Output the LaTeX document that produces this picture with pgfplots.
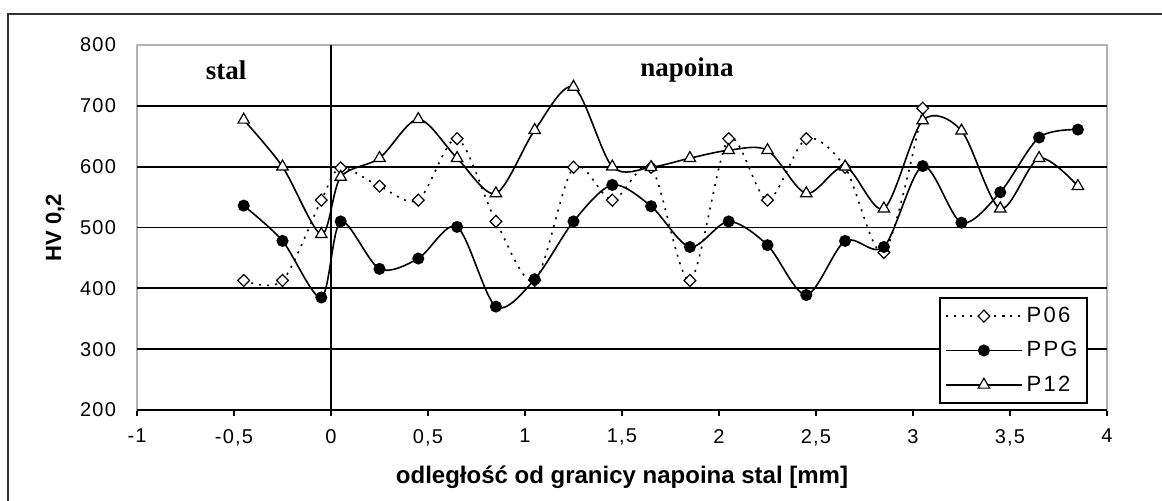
\documentclass[border=0pt]{standalone}
\usepackage{pgfplots}
\pgfplotsset{compat=1.18}
\usepackage{fontspec}
\setmainfont{Liberation Sans}
\newfontfamily\tickfont[LetterSpace=6]{Liberation Sans}
\newfontfamily\legfont[LetterSpace=10]{Liberation Sans}
\newfontfamily\serifb{Liberation Serif}

\begin{document}
\begin{tikzpicture}
\useasboundingbox (-68.5pt,-45pt) rectangle (512.5pt,205pt);
% outer frame (right and bottom edges fall outside the picture)
\draw[line width=1pt, black!80] (-64.5pt,-60pt) -- (-64.5pt,198pt) -- (530pt,198pt);
\begin{axis}[
    scale only axis,
    width=485pt, height=182.5pt,
    xmin=-1, xmax=4, ymin=200, ymax=800,
    xtick={-1,-0.5,...,4},
    ytick={200,300,...,800},
    extra y ticks={200,300,400,500,600,700},
    extra y tick labels={},
    extra y tick style={grid=major, major grid style={black, line width=0.9pt}, major tick length=0pt},
    axis line style={draw=gray!60, line width=0.8pt},
    xtick pos=left,
    tick align=outside,
    major tick length=3pt,
    xtick style={black, line width=0.8pt},
    ytick style={draw=none},
    /pgf/number format/.cd, use comma, assume math mode=true, 1000 sep={},
    /pgfplots/.cd,
    ticklabel style={font=\tickfont\fontsize{10}{12}\selectfont},
    xticklabel style={yshift=-3pt},
    yticklabel style={xshift=-4pt},
    xlabel={\bfseries odległość od granicy napoina stal [mm]},
    ylabel={\bfseries HV 0,2},
    xlabel style={font=\fontsize{12}{14}\selectfont, yshift=-3.5pt},
    ylabel style={font=\fontsize{11}{13}\selectfont, yshift=-2pt},
    legend cell align=left,
    legend style={at={(0.98,0.0164)}, anchor=south east, draw=black, line width=1pt,
        font=\legfont\fontsize{11}{13}\selectfont, row sep=4pt, inner sep=2.5pt},
    legend image code/.code={\draw[mark repeat=2,mark phase=2,#1] plot coordinates {(0pt,0pt) (19pt,0pt) (38pt,0pt)};},
]
\draw[black, line width=1.2pt] (axis cs:0,200) -- (axis cs:0,800);
\node[font=\serifb\bfseries\fontsize{13.5}{15}\selectfont] at (axis cs:-0.54,759) {stal};
\node[font=\serifb\bfseries\fontsize{13.5}{15}\selectfont] at (axis cs:1.835,759) {napoina};

\addplot[black, line width=0.8pt, smooth, dash pattern=on 1pt off 3pt,
    mark=diamond*, mark size=3pt, mark options={solid, fill=white, xscale=1.3, line width=0.6pt}]
coordinates {
(-0.45,413) (-0.25,413) (-0.05,545) (0.05,598) (0.25,568) (0.45,545) (0.65,646)
(0.85,510) (1.05,413) (1.25,599) (1.45,545) (1.65,599) (1.85,413) (2.05,646)
(2.25,545) (2.45,646) (2.65,599) (2.85,459) (3.05,696)
};
\addlegendentry{P06}

\addplot[black, line width=0.8pt, smooth, mark=*, mark size=2.6pt]
coordinates {
(-0.45,536) (-0.25,478) (-0.05,385) (0.05,510) (0.25,432) (0.45,449) (0.65,501)
(0.85,370) (1.05,415) (1.25,510) (1.45,570) (1.65,535) (1.85,468) (2.05,510)
(2.25,471) (2.45,389) (2.65,478) (2.85,468) (3.05,601) (3.25,508) (3.45,558)
(3.65,648) (3.85,661)
};
\addlegendentry{PPG}

\addplot[black, line width=0.8pt, smooth, mark=triangle*, mark size=3.3pt,
    mark options={fill=white, line width=0.6pt}]
coordinates {
(-0.45,677) (-0.25,600) (-0.05,489) (0.05,583) (0.25,614) (0.45,678) (0.65,614)
(0.85,556) (1.05,660) (1.25,731) (1.45,600) (1.65,599) (1.85,614) (2.05,627)
(2.25,627) (2.45,556) (2.65,600) (2.85,531) (3.05,676) (3.25,659) (3.45,531)
(3.65,614) (3.85,568)
};
\addlegendentry{P12}
\end{axis}
\end{tikzpicture}
\end{document}
